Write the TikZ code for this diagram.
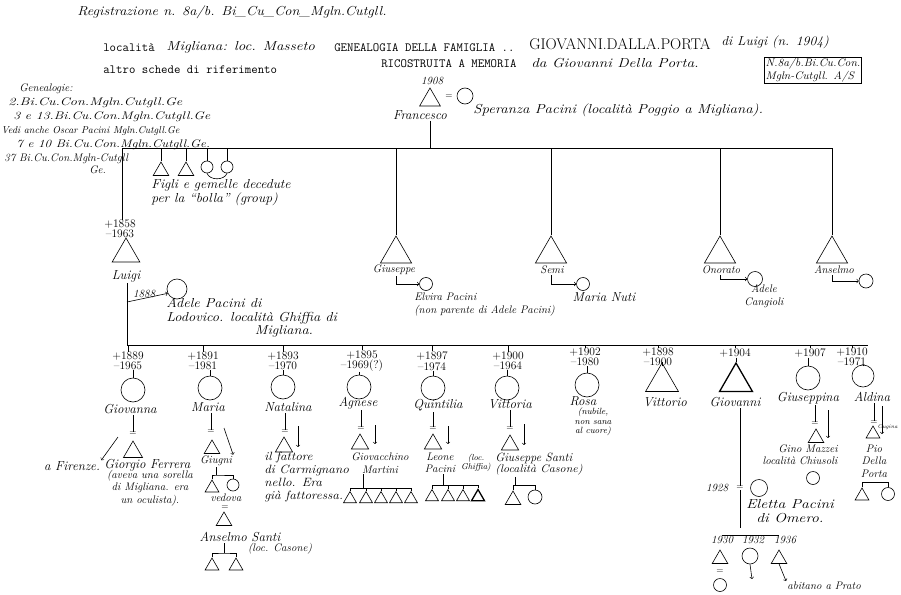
\documentclass[tikz,border=0pt]{standalone}
\usepackage{fontspec}
\usepackage{graphicx}
\usetikzlibrary{shapes.geometric}
\newcommand{\widen}[2]{\scalebox{#1}[1]{#2}}
\tikzset{
  male/.style={draw, regular polygon, regular polygon sides=3, minimum size=#1, inner sep=0pt},
  male/.default=20,
  female/.style={draw, circle, minimum size=#1, inner sep=0pt},
  female/.default=24,
  hand/.style={font=\itshape\fontsize{13}{14}\selectfont, inner sep=1pt},
  note/.style={font=\itshape\fontsize{11}{12.5}\selectfont, inner sep=1pt},
  typed/.style={font=\ttfamily\fontsize{12.5}{14}\selectfont, inner sep=1pt},
  years/.style={font=\fontsize{11.5}{10.5}\selectfont, align=center, inner sep=0pt},
  eq/.style={font=\small, inner sep=0pt},
}
\begin{document}
\begin{tikzpicture}[x=1pt, y=-1pt, line width=0.6pt]
  \useasboundingbox (0,0) rectangle (901,594);
  % intestazione
  \node[hand] (reg) at (232,12) {\widen{1.11}{Registrazione n. 8a/b. Bi\_Cu\_Con\_Mgln.Cutgll.}};
  \node[typed, anchor=west] (loc) at (102,48) {località};
  \node[hand, anchor=west] (mig) at (165,47) {\widen{1.16}{Migliana: loc. Masseto}};
  \node[typed, anchor=west] (gen) at (333,48) {GENEALOGIA DELLA FAMIGLIA ..};
  \node[font=\fontsize{15.5}{17}\selectfont, anchor=west, inner sep=1pt] (gdp) at (528,44) {GIOVANNI.DALLA.PORTA};
  \node[hand, anchor=west] (dil) at (720,42) {\widen{1.06}{di Luigi (n. 1904)}};
  \node[typed, anchor=west] (alt) at (102,70) {altro schede di riferimento};
  \node[typed, anchor=west] (ric) at (380,64) {RICOSTRUITA A MEMORIA};
  \node[hand, anchor=west] (dag) at (530,63) {\widen{1.18}{da Giovanni Della Porta.}};
  \node[draw, note, align=left, line width=0.5pt] (box) at (813,70) {\widen{1.06}{N.8a/b.Bi.Cu.Con.}\\\widen{1.06}{Mgln-Cutgll. A/S}};
  % genealogie collegate
  \node[note, anchor=west] (ge0) at (18,89) {Genealogie:};
  \node[note, anchor=west] (ge1) at (7,103) {\widen{1.3}{2.Bi.Cu.Con.Mgln.Cutgll.Ge}};
  \node[note, anchor=west] (ge2) at (12,117) {\widen{1.25}{3 e 13.Bi.Cu.Con.Mgln.Cutgll.Ge}};
  \node[note, anchor=west, font=\itshape\fontsize{10}{11}\selectfont] (ge3) at (0,131) {Vedi anche Oscar Pacini Mgln.Cutgll.Ge};
  \node[note, anchor=west] (ge4) at (15,145) {\widen{1.2}{7 e 10 Bi.Cu.Con.Mgln.Cutgll.Ge.}};
  \node[note, anchor=west] (ge5) at (3,159) {37 Bi.Cu.Con.Mgln-Cutgll};
  \node[note, anchor=west] (ge6) at (88,170) {Ge.};
  % Francesco e Speranza
  \node[note] (y08) at (432,81) {1908};
  \node[male=24] (fr) at (430,100) {};
  \node[eq] (eqf) at (449,97) {=};
  \node[female=16] (sp) at (465,96) {};
  \node[hand] (frn) at (420,115) {Francesco};
  \node[hand, anchor=west] (spn) at (472,110) {\widen{1.15}{Speranza Pacini (località Poggio a Migliana).}};
  \coordinate (bl) at (122,148);
  \coordinate (br) at (832,148);
  \coordinate (fb) at (430,148);
  % figli morti piccoli
  \node[male=18] (k1) at (161,171) {};
  \node[male=18] (k2) at (186,171) {};
  \node[female=12] (k3) at (207,167) {};
  \node[female=12] (k4) at (227,167) {};
  \node[hand, align=left, anchor=north west] (kt) at (150,178) {\widen{1.06}{Figli e gemelle decedute}\\ \widen{1.06}{per la ``bolla'' (group)}};
  % Luigi e Adele
  \node[years] (lud) at (120,229) {+1858\\--1963};
  \node[male=32] (lu) at (126,254) {};
  \node[hand] (lun) at (126,276) {Luigi};
  \node[female=20] (ad) at (177,289) {};
  \node[note] (y88) at (144,294) {1888};
  \coordinate (lj) at (127,302);
  \node[hand, align=left, anchor=north west] (adn) at (165,297) {\widen{1.11}{Adele Pacini di}\\\widen{1.11}{Lodovico. località Ghiffia di}};
  \node[hand] (adm) at (284,331) {\widen{1.11}{Migliana.}};
  \coordinate (cl) at (127,345);
  \coordinate (cr) at (868,345);
  % fratelli di Luigi
  \node[male=36] (gi) at (396,254) {};
  \node[note] (gin) at (394,270) {Giuseppe};
  \node[female=13] (el) at (426,284) {};
  \node[note, align=left, anchor=north west] (eln) at (413,292) {Elvira Pacini\\(non parente di Adele Pacini)};
  \node[male=36] (se) at (551,254) {};
  \node[note] (sen) at (552,270) {Semi};
  \node[female=13] (mn) at (583,284) {};
  \node[hand] (mnn) at (604,297) {Maria Nuti};
  \node[male=36] (on) at (720,254) {};
  \node[note] (onn) at (721,270) {Onorato};
  \node[female=15] (ac) at (755,279) {};
  \node[note, align=center] (acn) at (764,296) {Adele\\Cangioli};
  \node[male=36] (an) at (832,254) {};
  \node[note] (ann) at (834,270) {Anselmo};
  \node[female=14] (aw) at (866,281) {};
  % figli di Luigi
  \node[years] (y1) at (128,361) {+1889\\--1965};
  \node[female] (c1) at (133,390) {};
  \node[hand] (n1) at (130,409) {Giovanna};
  \node[years] (y2) at (203,361) {+1891\\--1981};
  \node[female] (c2) at (210,388) {};
  \node[hand] (n2) at (208,407) {Maria};
  \node[years] (y3) at (283,361) {+1893\\--1970};
  \node[female] (c3) at (283,387) {};
  \node[hand] (n3) at (288,407) {Natalina};
  \node[years] (y4) at (362,361) {+1895\\--1969(?)};
  \node[female] (c4) at (359,387) {};
  \node[hand] (n4) at (358,403) {Agnese};
  \node[years] (y5) at (432,361) {+1897\\--1974};
  \node[female] (c5) at (433,388) {};
  \node[hand] (n5) at (438,405) {Quintilia};
  \node[years] (y6) at (508,361) {+1900\\--1964};
  \node[female] (c6) at (507,388) {};
  \node[hand] (n6) at (510,404) {Vittoria};
  \node[years] (y7) at (585,357) {+1902\\--1980};
  \node[female] (c7) at (587,385) {};
  \node[hand] (n7) at (583,401) {Rosa};
  \node[note, align=center, font=\itshape\fontsize{9}{9.5}\selectfont] (r7) at (593,422) {(nubile,\\non sana\\al cuore)};
  \node[years] (y8) at (658,357) {+1898\\--1900};
  \node[male=38] (c8) at (662,382) {};
  \node[hand] (n8) at (665,402) {Vittorio};
  \node[years] (y9) at (735,353) {+1904};
  \node[male=38, line width=1.3pt] (c9) at (736,382) {};
  \node[hand] (n9) at (735,402) {Giovanni};
  \node[years] (y10) at (810,353) {+1907};
  \node[female] (c10) at (808,378) {};
  \node[hand] (n10) at (808,398) {Giuseppina};
  \node[years] (y11) at (852,357) {+1910\\--1971};
  \node[female=22] (c11) at (863,376) {};
  \node[hand] (n11) at (872,397) {Aldina};
  % Giovanna
  \node[eq] (eq1) at (133,434) {=};
  \node[male=22] (h1) at (133,452) {};
  \coordinate (a1) at (118,437);
  \node[hand] (fi) at (72,466) {a Firenze.};
  \node[hand, anchor=west] (gf) at (103,465) {Giorgio Ferrera};
  \node[note, align=center] (gfn) at (150,488) {(aveva una sorella\\di Migliana. era\\un oculista).};
  % Maria
  \node[eq] (eq2) at (211,432) {=};
  \node[male=18] (h2) at (212,449) {};
  \coordinate (a2) at (224,428);
  \node[note] (h2n) at (216,461) {Giugni};
  \coordinate (b2) at (216,475);
  \node[male=16] (m1) at (212,488) {};
  \node[female=12] (m2) at (233,485) {};
  \node[note] (vd) at (226,498) {vedova};
  \node[eq] (eq2b) at (225,508) {=};
  \node[male=18] (h2b) at (224,521) {};
  \node[hand] (as) at (240,537) {Anselmo Santi};
  \node[note] (asc) at (280,549) {(loc. Casone)};
  \coordinate (b2b) at (224,553);
  \node[male=16] (g1) at (212,566) {};
  \node[male=16] (g2) at (236,566) {};
  % Natalina
  \node[eq] (eq3) at (285,432) {=};
  \node[male=20] (h3) at (284,447) {};
  \coordinate (a3) at (298,426);
  \node[hand, align=left, anchor=north west, font=\itshape\fontsize{12}{13}\selectfont] (ft) at (263,451) {\widen{1.1}{il fattore}\\\widen{1.1}{di Carmignano}\\\widen{1.1}{nello. Era}\\\widen{1.1}{già fattoressa.}};
  % Agnese
  \node[eq] (eq4) at (361,429) {=};
  \node[male=20] (h4) at (360,444) {};
  \coordinate (a4) at (375,425);
  \node[note, align=center] (h4n) at (380,463) {Giovacchino\\Martini};
  \coordinate (j4) at (363,488);
  \node[male=15] (k41) at (350,499) {};
  \node[male=15] (k42) at (366,499) {};
  \node[male=15] (k43) at (381,499) {};
  \node[male=15] (k44) at (396,499) {};
  \node[male=15] (k45) at (411,499) {};
  % Quintilia
  \node[eq] (eq5) at (433,429) {=};
  \node[male=20] (h5) at (433,444) {};
  \coordinate (a5) at (448,426);
  \node[note, align=center] (h5n) at (440,463) {Leone\\Pacini};
  \node[note, align=center, font=\itshape\fontsize{8.5}{9.5}\selectfont] (h5l) at (476,463) {(loc.\\Ghiffia)};
  \coordinate (j5) at (443,485);
  \node[male=15] (k51) at (432,497) {};
  \node[male=15] (k52) at (448,497) {};
  \node[male=15] (k53) at (463,497) {};
  \node[male=15, line width=1.3pt] (k54) at (478,497) {};
  % Vittoria
  \node[eq] (eq6) at (510,429) {=};
  \node[male=20] (h6) at (510,445) {};
  \coordinate (a6) at (524,424);
  \node[note, anchor=west, font=\itshape\fontsize{12}{13}\selectfont] (h6n) at (494,458) {Giuseppe Santi};
  \node[note, anchor=west] (h6l) at (494,470) {\widen{1.1}{(località Casone)}};
  \coordinate (j6) at (515,485);
  \node[male=18] (v1) at (513,500) {};
  \node[female=14] (v2) at (535,497) {};
  % Giovanni ed Eletta
  \node[note] (m9y) at (717,488) {1928};
  \node[eq] (eq9) at (740,488) {=};
  \node[female=17] (w9) at (759,488) {};
  \node[hand, align=center] (w9n) at (790,511) {\widen{1.2}{Eletta Pacini}\\\widen{1.2}{di Omero.}};
  \coordinate (j9) at (740,528);
  \node[note] (z1y) at (722,540) {1930};
  \node[note] (z2y) at (753,540) {1932};
  \node[note] (z3y) at (785,540) {1936};
  \node[male=18] (z1) at (720,559) {};
  \node[female=16] (z2) at (750,556) {};
  \node[male=18] (z3) at (779,559) {};
  \node[eq] (eqz) at (720,572) {=};
  \node[female=13] (zz) at (720,585) {};
  \coordinate (z2x) at (752,579);
  \node[note, anchor=north west] (pr) at (786,581) {abitano a Prato};
  % Giuseppina
  \node[eq] (eq10) at (815,424) {=};
  \node[male=18] (h10) at (816,438) {};
  \coordinate (a10) at (828,410);
  \node[note] (h10n) at (808,449) {Gino Mazzei};
  \node[note] (h10l) at (800,461) {località Chiusoli};
  \node[female=13] (q10) at (813,478) {};
  % Aldina
  \node[eq] (eq11) at (874,423) {=};
  \node[male=16] (h11) at (873,434) {};
  \coordinate (a11) at (882,406);
  \node[note, anchor=south east, font=\itshape\fontsize{5.5}{6}\selectfont] (cu) at (899,431) {Cugina};
  \node[note, align=center] (h11n) at (874,461) {Pio\\Della\\Porta};
  \coordinate (j11) at (875,482);
  \node[male=16] (p1) at (862,496) {};
  \node[female=13] (p2) at (888,494) {};
  % linee
  \begin{scope}[-]
    \draw (bl) -- (br);
    \draw (frn.south -| fb) -- (fb);
    \foreach \k in {k1,k2,k3,k4} \draw (\k.north |- bl) -- (\k.north);
    \draw (k3.south) to[out=-70,in=-110] (k4.south);
    \draw (bl) -- (bl |- lud.north);
    \draw (lun.south -| cl) -- (cl) -- (cr);
    \foreach \s in {gi,se,on,an} \draw (\s.north |- bl) -- (\s.north);
    \foreach \i in {1,...,11} {
      \draw (y\i.north |- cl) -- (y\i.north);
      \draw (c\i.north |- y\i.south) -- (c\i.north);
    }
    \draw (n1.south -| c1) -- (eq1.north);
    \draw (n2.south -| eq2) -- (eq2.north);
    \draw (h2n.south) -- (b2);
    \draw (m1.north) |- (b2) -| (m2.north);
    \draw (as.south -| b2b) -- (b2b);
    \draw (g1.north) |- (b2b) -| (g2.north);
    \draw (n3.south -| eq3) -- (eq3.north);
    \draw (n4.south -| eq4) -- (eq4.north);
    \draw (h4n.south -| j4) -- (j4);
    \draw (k41.north) |- (k45.north |- j4) -- (k45.north);
    \foreach \k in {k42,k43,k44} \draw (\k.north) -- (\k.north |- j4);
    \draw (n5.south -| eq5) -- (eq5.north);
    \draw (h5n.south -| j5) -- (j5);
    \draw (k51.north) |- (k54.north |- j5) -- (k54.north);
    \foreach \k in {k52,k53} \draw (\k.north) -- (\k.north |- j5);
    \draw (n6.south -| eq6) -- (eq6.north);
    \draw (h6l.south -| j6) -- (j6);
    \draw (v1.north) |- (v2.north |- j6) -- (v2.north);
    \draw (n9.south -| eq9) -- (eq9.north);
    \draw (eq9.south) -- (j9);
    \draw (z1y.north) |- (z3y.north -| z3 |- j9) -- (z3y.north -| z3);
    \draw (n10.south -| eq10) -- (eq10.north);
    \draw (n11.south -| eq11) -- (eq11.north);
    \draw (p1.north) |- (p2.north |- j11) -- (p2.north);
  \end{scope}
  \draw[->] (lj) -- (ad.205);
  \draw[->] (gi.south |- gin.south) |- (el.west);
  \draw[->] (se.south |- sen.south) |- (mn.west);
  \draw[->] (on.south |- onn.south) |- (ac.west);
  \draw[->] (an.south |- ann.south) |- (aw.west);
  \draw[->] (a1) -- (fi.north east);
  \draw[->] (a2) -- (h2n.north east);
  \draw[->] (a3) -- (a3 |- h3.center);
  \draw[->] (a4) -- (a4 |- h4.center);
  \draw[->] (a5) -- (a5 |- h5.center);
  \draw[->] (a6) -- (a6 |- h6.center);
  \draw[->] (a10) -- (a10 |- h10.center);
  \draw[->] (a11) -- (a11 |- h11.center);
  \draw[->] (z2.south) -- (z2x);
  \draw[->] (z3.south) -- (pr.north west);
\end{tikzpicture}
\end{document}
